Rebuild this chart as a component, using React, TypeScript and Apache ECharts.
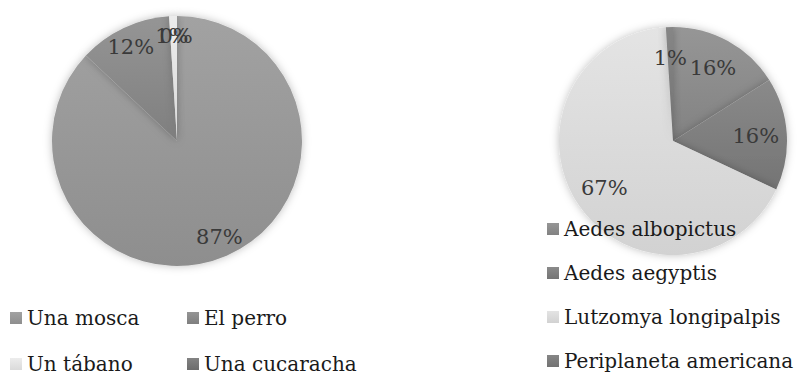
import React, { useEffect, useRef } from "react";
import * as echarts from "echarts";

const leftNames = ["Una mosca", "El perro", "Un tábano", "Una cucaracha"];
const leftValues = [87, 12, 1, 0];
const leftColors = [
  ["#a2a2a2", "#8e8e8e"],
  ["#959595", "#7f7f7f"],
  ["#ececec", "#dadada"],
  ["#838383", "#6c6c6c"],
];

const rightNames = ["Aedes albopictus", "Aedes aegyptis", "Lutzomya longipalpis", "Periplaneta americana"];
const rightValues = [16, 16, 67, 1];
const rightColors = [
  ["#969696", "#828282"],
  ["#8a8a8a", "#747474"],
  ["#e4e4e4", "#d2d2d2"],
  ["#868686", "#727272"],
];

const grad = (c: string[]) =>
  new echarts.graphic.LinearGradient(0, 0, 0, 1, [
    { offset: 0, color: c[0] },
    { offset: 1, color: c[1] },
  ]);

const FONT = "DejaVu Serif";

export default function App() {
  const ref = useRef<HTMLDivElement>(null);
  useEffect(() => {
    if (!ref.current) return;
    const chart = echarts.init(ref.current, undefined, { renderer: "svg" });
    const mk = (names: string[], vals: number[], cols: string[][]) =>
      names.map((n, i) => ({ name: n, value: vals[i], itemStyle: { color: grad(cols[i]) } }));
    const lbl = (names: string[], vals: number[]) => names.map((n, i) => ({ name: n, value: vals[i] }));
    const labelCfg = {
      show: true,
      position: "inside" as const,
      formatter: (p: any) => Math.round(p.percent) + "%",
      fontFamily: FONT,
      fontSize: 21,
      color: "#3a3a3a",
    };
    const legendBase = {
      orient: "vertical" as const,
      icon: "rect",
      itemWidth: 12,
      itemHeight: 12,
      padding: 0,
      height: 300,
      selectedMode: false,
      textStyle: { fontFamily: FONT, fontSize: 20, color: "#1a1a1a", lineHeight: 20 },
    };
    chart.setOption({
      animation: false,
      backgroundColor: "#ffffff",
      legend: [
        { ...legendBase, data: [leftNames[0], leftNames[2]], left: 10, top: 308, itemGap: 26 },
        { ...legendBase, data: [leftNames[1], leftNames[3]], left: 187, top: 308, itemGap: 26 },
        { ...legendBase, data: rightNames, left: 547, top: 219, itemGap: 24 },
      ],
      series: [
        {
          type: "pie",
          center: [177, 141],
          radius: [0, 125],
          startAngle: 90,
          data: mk(leftNames, leftValues, leftColors),
          label: { show: false },
          labelLine: { show: false },
          itemStyle: { shadowBlur: 8, shadowColor: "rgba(0,0,0,0.25)" },
          emphasis: { disabled: true },
          silent: true,
        },
        {
          type: "pie",
          center: [673, 141],
          radius: [0, 114],
          startAngle: 90,
          data: mk(rightNames, rightValues, rightColors),
          label: { show: false },
          labelLine: { show: false },
          itemStyle: { shadowBlur: 8, shadowColor: "rgba(0,0,0,0.25)" },
          emphasis: { disabled: true },
          silent: true,
        },
        {
          type: "pie",
          center: [177, 141],
          radius: [79, 125],
          startAngle: 90,
          minAngle: 1,
          minShowLabelAngle: -1,
          avoidLabelOverlap: false,
          labelLayout: { hideOverlap: false },
          data: lbl(leftNames, leftValues),
          itemStyle: { color: "rgba(0,0,0,0)" },
          label: labelCfg,
          labelLine: { show: false },
          emphasis: { disabled: true },
          silent: true,
        },
        {
          type: "pie",
          center: [673, 141],
          radius: [46, 114],
          startAngle: 90,
          avoidLabelOverlap: false,
          data: lbl(rightNames, rightValues),
          itemStyle: { color: "rgba(0,0,0,0)" },
          label: labelCfg,
          labelLine: { show: false },
          emphasis: { disabled: true },
          silent: true,
        },
      ],
    });
    return () => chart.dispose();
  }, []);
  return <div ref={ref} style={{ position: "fixed", left: 0, top: 0, width: 801, height: 375 }} />;
}
